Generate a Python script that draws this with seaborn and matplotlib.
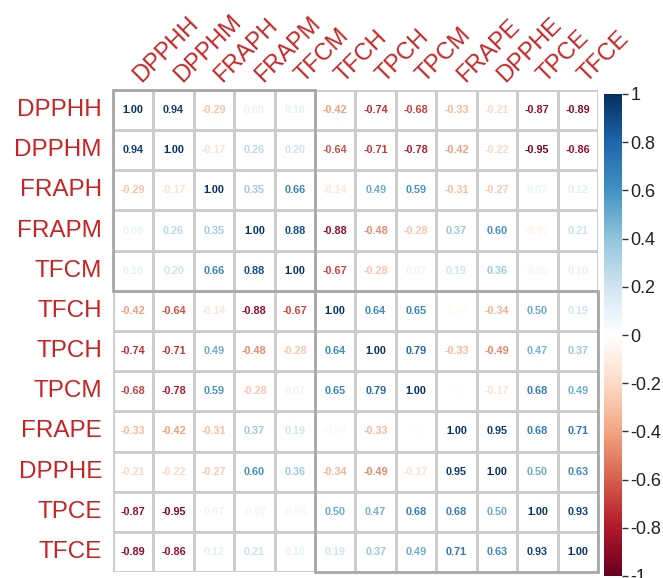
import numpy as np
import pandas as pd
import matplotlib
matplotlib.use("Agg")
import matplotlib.pyplot as plt
import seaborn as sns
from matplotlib.colors import LinearSegmentedColormap, ListedColormap, Normalize
from matplotlib.cm import ScalarMappable
from matplotlib.patches import Rectangle
from matplotlib.transforms import ScaledTranslation

# Variables in hierarchical-clustering order
variables = ["DPPHH", "DPPHM", "FRAPH", "FRAPM", "TFCM", "TFCH",
             "TPCH", "TPCM", "FRAPE", "DPPHE", "TPCE", "TFCE"]

# Correlation matrix, one row per variable
r_dpphh = [1.00, 0.94, -0.29, 0.08, 0.10, -0.42, -0.74, -0.68, -0.33, -0.21, -0.87, -0.89]
r_dpphm = [0.94, 1.00, -0.17, 0.26, 0.20, -0.64, -0.71, -0.78, -0.42, -0.22, -0.95, -0.86]
r_fraph = [-0.29, -0.17, 1.00, 0.35, 0.66, -0.14, 0.49, 0.59, -0.31, -0.27, 0.07, 0.12]
r_frapm = [0.08, 0.26, 0.35, 1.00, 0.88, -0.88, -0.48, -0.28, 0.37, 0.60, -0.07, 0.21]
r_tfcm = [0.10, 0.20, 0.66, 0.88, 1.00, -0.67, -0.28, 0.07, 0.19, 0.36, -0.06, 0.10]
r_tfch = [-0.42, -0.64, -0.14, -0.88, -0.67, 1.00, 0.64, 0.65, -0.04, -0.34, 0.50, 0.19]
r_tpch = [-0.74, -0.71, 0.49, -0.48, -0.28, 0.64, 1.00, 0.79, -0.33, -0.49, 0.47, 0.37]
r_tpcm = [-0.68, -0.78, 0.59, -0.28, 0.07, 0.65, 0.79, 1.00, 0.01, -0.17, 0.68, 0.49]
r_frape = [-0.33, -0.42, -0.31, 0.37, 0.19, -0.04, -0.33, 0.01, 1.00, 0.95, 0.68, 0.71]
r_dpphe = [-0.21, -0.22, -0.27, 0.60, 0.36, -0.34, -0.49, -0.17, 0.95, 1.00, 0.50, 0.63]
r_tpce = [-0.87, -0.95, 0.07, -0.07, -0.06, 0.50, 0.47, 0.68, 0.68, 0.50, 1.00, 0.93]
r_tfce = [-0.89, -0.86, 0.12, 0.21, 0.10, 0.19, 0.37, 0.49, 0.71, 0.63, 0.93, 1.00]

# Sizes of the two clusters outlined on the diagonal
cluster_sizes = [5, 7]

corr = pd.DataFrame([r_dpphh, r_dpphm, r_fraph, r_frapm, r_tfcm, r_tfch,
                     r_tpch, r_tpcm, r_frape, r_dpphe, r_tpce, r_tfce],
                    index=variables, columns=variables)

sns.set_theme(style="white")
plt.rcParams["font.family"] = ["Liberation Sans", "DejaVu Sans"]

# Red-blue diverging palette with a pure white midpoint
rdbu = LinearSegmentedColormap.from_list(
    "rdbu_white",
    ["#67001F", "#B2182B", "#D6604D", "#F4A582", "#FDDBC7", "#FFFFFF",
     "#D1E5F0", "#92C5DE", "#4393C3", "#2166AC", "#053061"], N=200)
norm = Normalize(vmin=-1, vmax=1)
label_red = "#c82424"

fig = plt.figure(figsize=(6.63, 5.78), dpi=100)
ax = fig.add_axes([113 / 663, 1 - 572 / 578, 485 / 663, 482 / 578])
cax = fig.add_axes([604 / 663, 1 - 576 / 578, 18 / 663, 482 / 578])

sns.heatmap(corr, ax=ax, cmap=ListedColormap(["white"]), cbar=False,
            annot=True, fmt=".2f",
            annot_kws=dict(size=7.8, fontweight="bold"),
            linewidths=1.0, linecolor="#cdcdcd")

# Colour each coefficient by its value
for txt in ax.texts:
    txt.set_color(rdbu(norm(float(txt.get_text()))))

# Cluster outlines
start = 0
for size in cluster_sizes:
    ax.add_patch(Rectangle((start, start), size, size, fill=False,
                           edgecolor="#a8a8a8", lw=2.0, clip_on=False, zorder=5))
    start += size

ax.xaxis.tick_top()
ax.set_xticks(np.arange(len(variables)) + 0.5)
ax.set_xticklabels(variables, rotation=45, ha="left", va="baseline",
                   rotation_mode="anchor", color=label_red, fontsize=17)
ax.set_yticks(np.arange(len(variables)) + 0.5)
ax.set_yticklabels(variables, rotation=0, color=label_red, fontsize=17.5)
ax.tick_params(axis="x", length=0, pad=5)
ax.tick_params(axis="y", length=0, pad=8)
ax.set_xlabel("")
ax.set_ylabel("")

# Nudge the column labels slightly right of the column centres
shift = ScaledTranslation(6 / 72, 0, fig.dpi_scale_trans)
for lbl in ax.get_xticklabels():
    lbl.set_transform(lbl.get_transform() + shift)

cb = fig.colorbar(ScalarMappable(norm=norm, cmap=rdbu), cax=cax,
                  ticks=np.round(np.arange(-1, 1.01, 0.2), 1))
cb.outline.set_visible(False)
cb.ax.set_yticklabels(["-1", "-0.8", "-0.6", "-0.4", "-0.2", "0",
                       "0.2", "0.4", "0.6", "0.8", "1"])
cb.ax.tick_params(length=4, width=1, color="#333333", labelsize=13,
                  labelcolor="#222222", pad=2)

fig.savefig("out.png", dpi=100, facecolor="white")
